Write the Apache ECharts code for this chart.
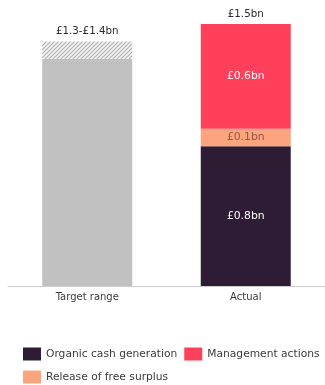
<!DOCTYPE html>
<html>
<head>
<meta charset="utf-8">
<style>
  html, body { margin: 0; padding: 0; background: #ffffff; }
  #chart { width: 325px; height: 385px; }
</style>
<script src="https://cdn.jsdelivr.net/npm/echarts@6/dist/echarts.min.js"></script>
</head>
<body>
<div id="chart"></div>
<script>
// Categories and values (£bn)
var categories = ['Target range', 'Actual'];
var targetLow = [1.3, null];        // solid part of the target range
var targetBand = [0.1, null];       // 1.3 → 1.4 uncertainty band
var organic = [null, 0.8];          // Organic cash generation
var release = [null, 0.1];          // Release of free surplus
var management = [null, 0.6];       // Management actions
var totalLabels = ['£1.3-£1.4bn', '£1.5bn'];

var FONT = '"DejaVu Sans", sans-serif';

// diagonal hatch pattern for the target band
function hatchPattern() {
  var c = document.createElement('canvas');
  c.width = 4; c.height = 4;
  var g = c.getContext('2d');
  g.fillStyle = '#f4f4f4';
  g.fillRect(0, 0, 4, 4);
  g.strokeStyle = '#b0b0b0';
  g.lineWidth = 1.1;
  g.beginPath();
  g.moveTo(-1, 5); g.lineTo(5, -1);
  g.moveTo(-1, 1); g.lineTo(1, -1);
  g.moveTo(3, 5); g.lineTo(5, 3);
  g.stroke();
  return c;
}

function bn(p) { return '£' + p.value + 'bn'; }

var chart = echarts.init(document.getElementById('chart'), null, { renderer: 'canvas' });

var barW = 90;

chart.setOption({
  animation: false,
  backgroundColor: '#ffffff',
  grid: { left: 8, width: 322, top: 6.5, bottom: 99, containLabel: false },
  xAxis: {
    type: 'category',
    data: categories,
    axisLine: { lineStyle: { color: '#cccccc', width: 1 } },
    axisTick: { show: false },
    axisLabel: { color: '#3a3a3a', fontSize: 10, fontFamily: FONT, margin: 6 }
  },
  yAxis: {
    type: 'value', min: 0, max: 1.6,
    show: false, splitLine: { show: false }
  },
  legend: {
    data: ['Organic cash generation', 'Management actions', 'Release of free surplus'],
    left: 23, top: 346, width: 305, padding: 0,
    itemWidth: 18, itemHeight: 13, itemGap: 7,
    icon: 'rect',
    textStyle: { color: '#3a3a3a', fontSize: 10.7, lineHeight: 16, fontFamily: FONT, padding: [0, 0, 0, 0] }
  },
  series: [
    {
      name: 'Target', type: 'bar', stack: 'a', barWidth: barW,
      data: targetLow,
      itemStyle: { color: '#c1c1c1' }
    },
    {
      name: 'Target band', type: 'bar', stack: 'a', barWidth: barW,
      data: targetBand,
      itemStyle: { color: { image: hatchPattern(), repeat: 'repeat' } }
    },
    {
      name: 'Organic cash generation', type: 'bar', stack: 'a', barWidth: barW,
      data: organic,
      itemStyle: { color: '#2e1c35' },
      label: { show: true, position: 'inside', formatter: bn, color: '#ffffff', fontSize: 10.8, fontFamily: FONT }
    },
    {
      name: 'Release of free surplus', type: 'bar', stack: 'a', barWidth: barW,
      data: release,
      itemStyle: { color: '#fca47e' },
      label: { show: true, position: 'inside', formatter: bn, color: '#9a5440', fontSize: 10.8, fontFamily: FONT }
    },
    {
      name: 'Management actions', type: 'bar', stack: 'a', barWidth: barW,
      data: management,
      itemStyle: { color: '#ff405a' },
      label: { show: true, position: 'inside', formatter: bn, color: '#ffffff', fontSize: 10.8, fontFamily: FONT }
    },
    {
      name: 'Totals', type: 'bar', stack: 'a', barWidth: barW,
      data: categories.map(function () { return 0; }),
      itemStyle: { color: 'transparent' },
      label: {
        show: true, position: 'top', distance: 5,
        formatter: function (p) { return totalLabels[p.dataIndex]; },
        color: '#2a2a2a', fontSize: 10.3, fontFamily: FONT
      }
    }
  ]
});
</script>
</body>
</html>
